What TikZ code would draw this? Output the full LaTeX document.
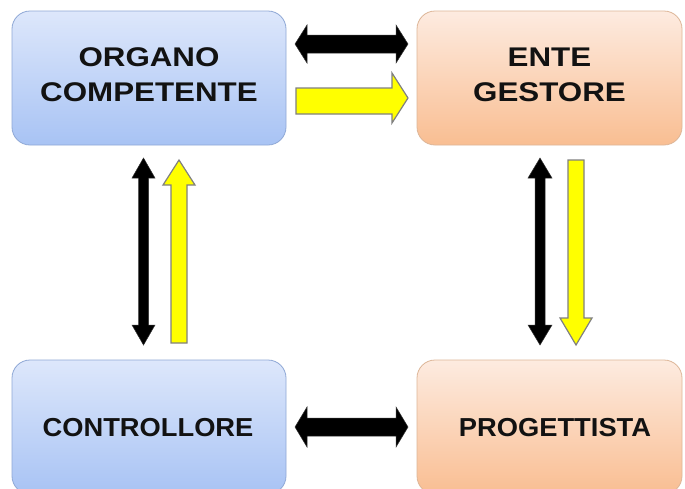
\documentclass[tikz,border=0pt]{standalone}
\usepackage{fontspec}
\newfontfamily\topfont[FakeStretch=1.16]{Liberation Sans}
\newfontfamily\botfont[FakeStretch=1.05]{Liberation Sans}
\definecolor{bluetop}{HTML}{DDE7FB}
\definecolor{bluebot}{HTML}{A8C3F4}
\definecolor{blueedge}{HTML}{8FA8D6}
\definecolor{orgtop}{HTML}{FDEBE0}
\definecolor{orgbot}{HTML}{F9BE92}
\definecolor{orgedge}{HTML}{DDB698}
\definecolor{arryel}{HTML}{FFFF00}
\definecolor{arredge}{HTML}{808080}
% horizontal double arrow: x1,x2,yc,shaft half,head half,head length
\newcommand\dblH[6]{(#1,#3) -- (#1+#6,#3-#5) -- (#1+#6,#3-#4) -- (#2-#6,#3-#4) -- (#2-#6,#3-#5) -- (#2,#3) -- (#2-#6,#3+#5) -- (#2-#6,#3+#4) -- (#1+#6,#3+#4) -- (#1+#6,#3+#5) -- cycle}
% vertical double arrow: y1,y2,xc,shaft half,head half,head length
\newcommand\dblV[6]{(#3,#1) -- (#3+#5,#1+#6) -- (#3+#4,#1+#6) -- (#3+#4,#2-#6) -- (#3+#5,#2-#6) -- (#3,#2) -- (#3-#5,#2-#6) -- (#3-#4,#2-#6) -- (#3-#4,#1+#6) -- (#3-#5,#1+#6) -- cycle}
\tikzset{
  bluebox/.style={draw=blueedge, line width=0.8pt, rounded corners=18pt, top color=bluetop, bottom color=bluebot},
  orgbox/.style={draw=orgedge, line width=0.8pt, rounded corners=18pt, top color=orgtop, bottom color=orgbot},
  toplabel/.style={font=\topfont\bfseries\fontsize{27}{35}\selectfont, text=black!93, align=center},
  botlabel/.style={font=\botfont\bfseries\fontsize{26}{32}\selectfont, text=black!93},
  blackarrow/.style={fill=black, draw=black!80, line width=0.5pt},
  yellowarrow/.style={fill=arryel, draw=arredge, line width=1.2pt, line join=miter}
}
\begin{document}
\begin{tikzpicture}[x=1pt,y=-1pt]
\useasboundingbox (0,0) rectangle (685,488);
\fill[white] (0,0) rectangle (685,488);
% boxes
\path[bluebox] (12,11) rectangle (286,145);
\path[orgbox] (417,11) rectangle (682,145);
\path[bluebox] (12,360) rectangle (286,494);
\path[orgbox] (417,360) rectangle (682,494);
% labels
\node[toplabel] (oc) at (149,75) {ORGANO\\COMPETENTE};
\node[toplabel] (eg) at (549.5,75) {ENTE\\GESTORE};
\node[botlabel] (co) at (148,428) {CONTROLLORE};
\node[botlabel] (pr) at (555,428) {PROGETTISTA};
% horizontal arrows
\draw[blackarrow] \dblH{295}{408}{44}{9}{19}{12};
\draw[yellowarrow] (296,88) -- (392,88) -- (392,73) -- (408,98) -- (392,123) -- (392,114) -- (296,114) -- cycle;
\draw[blackarrow] \dblH{295}{408}{427}{9}{20}{12};
% vertical arrows left
\draw[blackarrow] \dblV{158}{345}{143.5}{5}{11.5}{20};
\draw[yellowarrow] (171,343) -- (171,185) -- (163,185) -- (179,160) -- (195,185) -- (187,185) -- (187,343) -- cycle;
% vertical arrows right
\draw[blackarrow] \dblV{158}{345}{540}{5}{12}{20};
\draw[yellowarrow] (568,160) -- (584,160) -- (584,318) -- (592,318) -- (576,345) -- (560,318) -- (568,318) -- cycle;
\end{tikzpicture}
\end{document}
